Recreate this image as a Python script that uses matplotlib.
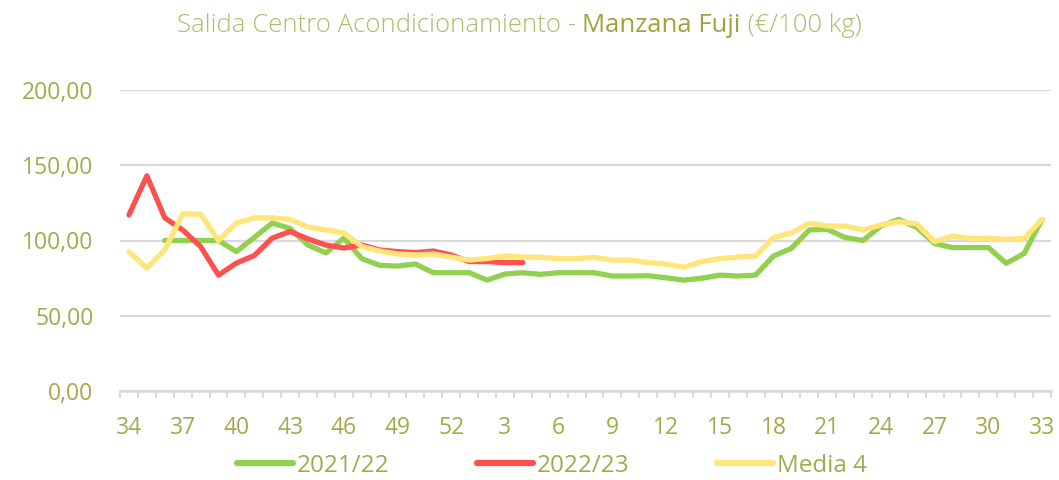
import matplotlib
matplotlib.use("Agg")
import matplotlib.pyplot as plt
from matplotlib.ticker import FuncFormatter, FixedLocator

# ------------------------------
# Data
# ------------------------------
weeks = list(range(34, 53)) + list(range(1, 34))

serie_2122 = [None, None, 100, 100, 100, 100, 92.6, 102, 111.6, 108,
              97, 91.7, 101.6, 88, 83.5, 83, 84.4, 78.6, 78.6, 78.6,
              73.7, 77.7, 78.6, 77.5, 78.6, 78.6, 78.6, 76.4, 76.4, 76.6,
              75.2, 73.7, 74.9, 77, 76.4, 77, 89.7, 94.8, 107, 107.4,
              102, 100, 109.6, 114, 108.7, 98, 95.3, 95.3, 95.3, 84.8,
              91.4, 114]

serie_2223 = [117, 143, 115, 107, 96, 77, 85, 90, 101.6, 106,
              101, 97, 95, 97, 93.7, 92.6, 92, 93, 90.4, 86,
              86, 85.3, 85.3]

media_4 = [92.6, 81.7, 93.7, 117.6, 117.6, 100, 111.6, 115, 115, 114,
           109, 107, 105, 96, 93, 91, 90.4, 91, 89, 87,
           88, 89.7, 89, 88.8, 88, 88, 88.8, 87, 87, 85.3,
           84.4, 82.2, 86, 88, 89, 89.7, 102, 105, 111.4, 109.6,
           109.6, 107, 110.3, 112.5, 111, 99.2, 103, 101.4, 101.4, 100.8,
           101.4, 114]

y_ticks = [0, 50, 100, 150, 200]

# ------------------------------
# Style
# ------------------------------
FONT = "Open Sans"
TXT = "#A3AA4B"
TITLE_LIGHT = "#B3BA6C"
TITLE_DARK = "#9EA53C"
GRID = "#D9D9D9"

plt.rcParams['font.family'] = [FONT, 'DejaVu Sans']

fig = plt.figure(figsize=(10.59, 4.8), dpi=100)
ax = fig.add_axes([120 / 1059, 89 / 480, 931 / 1059, 301 / 480])

x = list(range(len(weeks)))
ax.plot(x, [v if v is not None else float('nan') for v in serie_2122],
        color="#92D050", lw=3.8, solid_capstyle='round', solid_joinstyle='round', label="2021/22")
ax.plot(x[:len(serie_2223)], serie_2223,
        color="#FF5050", lw=3.8, solid_capstyle='round', solid_joinstyle='round', label="2022/23")
ax.plot(x, media_4,
        color="#FFE57A", lw=3.8, solid_capstyle='round', solid_joinstyle='round', label="Media 4")

ax.set_xlim(-0.5, len(weeks) - 0.5)
ax.set_ylim(0, 200)

# gridlines
ax.set_yticks(y_ticks)
ax.yaxis.set_major_formatter(FuncFormatter(lambda v, p: f"{v:.2f}".replace('.', ',')))
ax.grid(axis='y', color=GRID, lw=1.6)
ax.set_axisbelow(True)

for s in ['top', 'right', 'left']:
    ax.spines[s].set_visible(False)
ax.spines['bottom'].set_color(GRID)
ax.spines['bottom'].set_linewidth(1.8)

# x ticks: labels every 3 weeks, small marks on category borders
lab_pos = list(range(0, len(weeks), 3))
ax.set_xticks(lab_pos)
ax.set_xticklabels([str(weeks[i]) for i in lab_pos])
ax.xaxis.set_minor_locator(FixedLocator([i - 0.5 for i in range(len(weeks) + 1)]))
ax.tick_params(axis='x', which='major', length=0, pad=18, labelsize=16.5, labelcolor=TXT)
ax.tick_params(axis='x', which='minor', length=5, width=1.3, color=GRID)
ax.tick_params(axis='y', length=0, pad=19, labelsize=16.5, labelcolor=TXT)

# legend
leg = fig.legend(loc='center', ncol=3, frameon=False,
                 fontsize=17.5, handlelength=2.3, handletextpad=0.16, columnspacing=3.6,
                 labelcolor=TXT)
leg.set_bbox_to_anchor((552 / 1059, 1 - 466 / 480), transform=fig.transFigure)
for h in leg.get_lines():
    h.set_linewidth(4.5)
    h.set_solid_capstyle('round')

# title in three pieces (two colours)
parts = [("Salida Centro Acondicionamiento - ", TITLE_LIGHT, 'light'),
         ("Manzana Fuji", TITLE_DARK, 'normal'),
         (" (€/100 kg)", TITLE_LIGHT, 'light')]
renderer = fig.canvas.get_renderer()
texts = []
for s, c, w in parts:
    t = fig.text(0, 1 - 26 / 480, s, color=c, fontsize=18.5, fontweight=w, va='center', ha='left')
    texts.append(t)
widths = [t.get_window_extent(renderer).width for t in texts]
x0 = 519 - sum(widths) / 2
for t, w in zip(texts, widths):
    t.set_x(x0 / 1059)
    x0 += w

fig.savefig("out.png", dpi=100)
